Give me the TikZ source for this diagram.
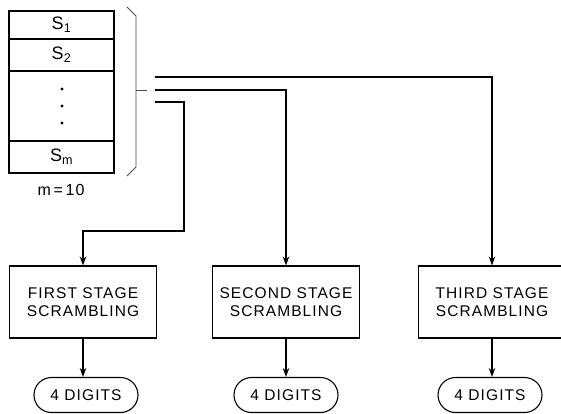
\documentclass[tikz,border=0pt]{standalone}
\usepackage{fontspec}
\newfontfamily\lab{Liberation Sans}[LetterSpace=7]
\usetikzlibrary{arrows.meta}
\begin{document}
\begin{tikzpicture}[x=1pt,y=-1pt,
  wire/.style={line width=2.1pt},
  feed/.style={wire,-{Stealth[length=9pt,width=6.5pt]}},
  frame/.style={draw,line width=1.1pt,inner sep=0pt},
  cell/.style={frame,minimum width=105pt,font=\lab\fontsize{18}{20}\selectfont},
  stagebox/.style={frame,minimum width=147pt,minimum height=72pt,align=center,
    font=\lab\fontsize{15.5}{18}\selectfont},
  pill/.style={frame,rounded corners=17.5pt,minimum width=104pt,minimum height=35pt,
    font=\lab\fontsize{15.5}{18}\selectfont}]
\useasboundingbox (0,0) rectangle (561,413);

% register stack
\node[cell,minimum height=28pt] (s1) at (61.5,25) {S\textsubscript{1}};
\node[cell,minimum height=32pt] (s2) at (61.5,55) {S\textsubscript{2}};
\node[cell,minimum height=70pt] (sd) at (61.5,106) {};
\node[cell,minimum height=32pt] (sm) at (61.5,157) {S\textsubscript{m}};
\foreach \yy in {89,106,123} \fill (62,\yy) circle (1.7pt);
\node[font=\lab\fontsize{16}{18}\selectfont] (mlab) at (61,190) {m\,=\,10};

% bracket gathering the stack
\draw[line width=0.8pt,black!70] (127,7) -- (136,16) -- (136,167) -- (127,176);
\draw[line width=0.8pt,black!70] (136,90) coordinate (tip) -- (147,90);

% feed line starts
\coordinate (a1) at (155,77);
\coordinate (a2) at (155,90);
\coordinate (a3) at (155,102);
\coordinate (bend) at (184,231);

% stage boxes
\node[stagebox] (st1) at (83,302) {FIRST STAGE\\SCRAMBLING};
\node[stagebox] (st2) at (286,302) {SECOND STAGE\\SCRAMBLING};
\node[stagebox] (st3) at (492,302) {THIRD STAGE\\SCRAMBLING};

% outputs
\node[pill] (d1) at (86,395) {4 DIGITS};
\node[pill] (d2) at (286,395) {4 DIGITS};
\node[pill] (d3) at (490,395) {4 DIGITS};

% connectors
\draw[feed] (a1) -| (st3.north);
\draw[feed] (a2) -| (st2.north);
\draw[feed] (a3) -| (bend) -| (st1.north);
\draw[feed] (st1.south) -- (st1.south |- d1.north);
\draw[feed] (st2.south) -- (st2.south |- d2.north);
\draw[feed] (st3.south) -- (st3.south |- d3.north);
\end{tikzpicture}
\end{document}
